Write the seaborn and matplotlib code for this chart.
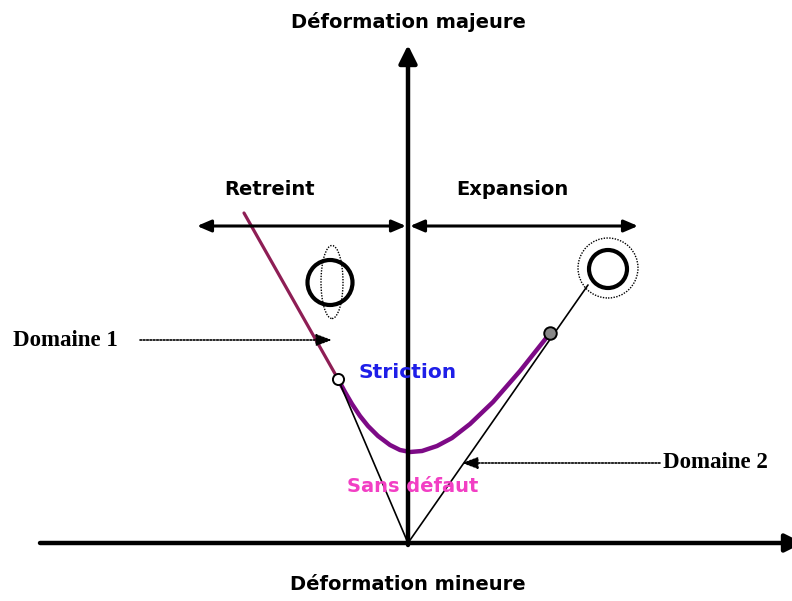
"""
Forming limit diagram (schematic) — Déformation majeure vs Déformation mineure.
Units: 1 unit = 100 px, origin at the axes crossing.
"""
import matplotlib
matplotlib.use("Agg")
import matplotlib.pyplot as plt
from matplotlib.patches import Circle, Ellipse
import pandas as pd
import seaborn as sns

# ── Data ──────────────────────────────────────────────────────────────────────
# upper-left branch (Domaine 1, straight part of the limit curve)
left_limit_x = [-1.64, -0.70]
left_limit_y = [3.30, 1.64]

# necking limit curve (Striction)
neck_x = [-0.70, -0.63, -0.56, -0.48, -0.40, -0.30, -0.18, -0.08, 0.02, 0.14,
          0.29, 0.44, 0.62, 0.85, 1.12, 1.39]
neck_y = [1.64, 1.51, 1.39, 1.27, 1.17, 1.07, 0.98, 0.93, 0.91, 0.92,
          0.97, 1.05, 1.19, 1.41, 1.72, 2.06]

# strain paths from the origin
path_left_x = [0.0, -0.70]
path_left_y = [0.0, 1.64]
path_right_x = [0.0, 1.80]
path_right_y = [0.0, 2.58]

# markers on the curve
open_pt = (-0.70, 1.64)
grey_pt = (1.42, 2.10)

# labels
axis_labels = ["Déformation majeure", "Déformation mineure"]
zone_labels = ["Retreint", "Expansion"]
curve_labels = ["Striction", "Sans défaut"]
domain_labels = ["Domaine 1", "Domaine 2"]

# ── Figure ────────────────────────────────────────────────────────────────────
sns.set_theme(style="white")
plt.rcParams["font.family"] = ["DejaVu Sans"]
plt.rcParams["text.color"] = "black"

fig = plt.figure(figsize=(7.92, 6.01), dpi=100)
ax = fig.add_axes([0, 0, 1, 1])
ax.set_xlim(-4.08, 3.84)
ax.set_ylim(-0.58, 5.43)
ax.axis("off")

df_left = pd.DataFrame({"x": left_limit_x, "y": left_limit_y})
df_neck = pd.DataFrame({"x": neck_x, "y": neck_y})
sns.lineplot(data=df_left, x="x", y="y", sort=False, color="#8E1E55", lw=2.3, ax=ax)
sns.lineplot(data=df_neck, x="x", y="y", sort=False, color="#7D0A86", lw=3.2, ax=ax,
             solid_joinstyle="round", solid_capstyle="round")
sns.lineplot(x=path_left_x, y=path_left_y, sort=False, color="black", lw=1.2, ax=ax)
sns.lineplot(x=path_right_x, y=path_right_y, sort=False, color="black", lw=1.2, ax=ax)

ax.plot(*open_pt, "o", ms=8, mfc="white", mec="black", mew=1.4, zorder=5)
ax.plot(*grey_pt, "o", ms=9, mfc="#888888", mec="black", mew=1.4, zorder=5)

# axes of the diagram
heavy = dict(arrowstyle="-|>,head_length=0.9,head_width=0.45", color="black", lw=3.2,
             shrinkA=0, shrinkB=0)
ax.annotate("", xy=(3.95, 0), xytext=(-3.68, 0), arrowprops=heavy, annotation_clip=False)
ax.annotate("", xy=(0, 4.98), xytext=(0, -0.02), arrowprops=heavy, annotation_clip=False)

# Retreint / Expansion double arrows
dbl = dict(arrowstyle="<|-|>,head_length=0.7,head_width=0.3", color="black", lw=2.2,
           shrinkA=0, shrinkB=0)
ax.annotate("", xy=(-2.11, 3.17), xytext=(-0.02, 3.17), arrowprops=dbl)
ax.annotate("", xy=(2.30, 3.17), xytext=(0.02, 3.17), arrowprops=dbl)

# dotted pointers
dot = dict(arrowstyle="-|>,head_length=0.8,head_width=0.3", color="black", lw=1.2,
           linestyle=(0, (1, 1)), shrinkA=0, shrinkB=0)
ax.annotate("", xy=(-0.76, 2.03), xytext=(-2.68, 2.03), arrowprops=dot)
ax.annotate("", xy=(0.54, 0.80), xytext=(2.52, 0.80), arrowprops=dot)

# deformed grid circles
ax.add_patch(Circle((-0.78, 2.605), 0.225, fill=False, ec="black", lw=3))
ax.add_patch(Ellipse((-0.76, 2.61), 0.22, 0.73, fill=False, ec="black", lw=1.0,
                     linestyle=(0, (1, 1))))
ax.add_patch(Circle((2.00, 2.74), 0.19, fill=False, ec="black", lw=3))
ax.add_patch(Circle((2.00, 2.75), 0.30, fill=False, ec="black", lw=1.0,
                    linestyle=(0, (1, 1))))

# texts
ax.text(0, 5.21, axis_labels[0], ha="center", va="center", fontsize=14, fontweight="bold")
ax.text(0, -0.42, axis_labels[1], ha="center", va="center", fontsize=14, fontweight="bold")
ax.text(-1.38, 3.53, zone_labels[0], ha="center", va="center", fontsize=14, fontweight="bold")
ax.text(1.04, 3.53, zone_labels[1], ha="center", va="center", fontsize=14, fontweight="bold")
ax.text(0, 1.71, curve_labels[0], ha="center", va="center", fontsize=14.5,
        fontweight="bold", color="#1F1FE8")
ax.text(0.05, 0.56, curve_labels[1], ha="center", va="center", fontsize=14,
        fontweight="bold", color="#F23FC4")
ax.text(-3.43, 2.03, domain_labels[0], ha="center", va="center", fontsize=16.5,
        fontweight="bold", family="Liberation Serif")
ax.text(3.07, 0.80, domain_labels[1], ha="center", va="center", fontsize=16.5,
        fontweight="bold", family="Liberation Serif")

fig.savefig("out.png", dpi=100)
